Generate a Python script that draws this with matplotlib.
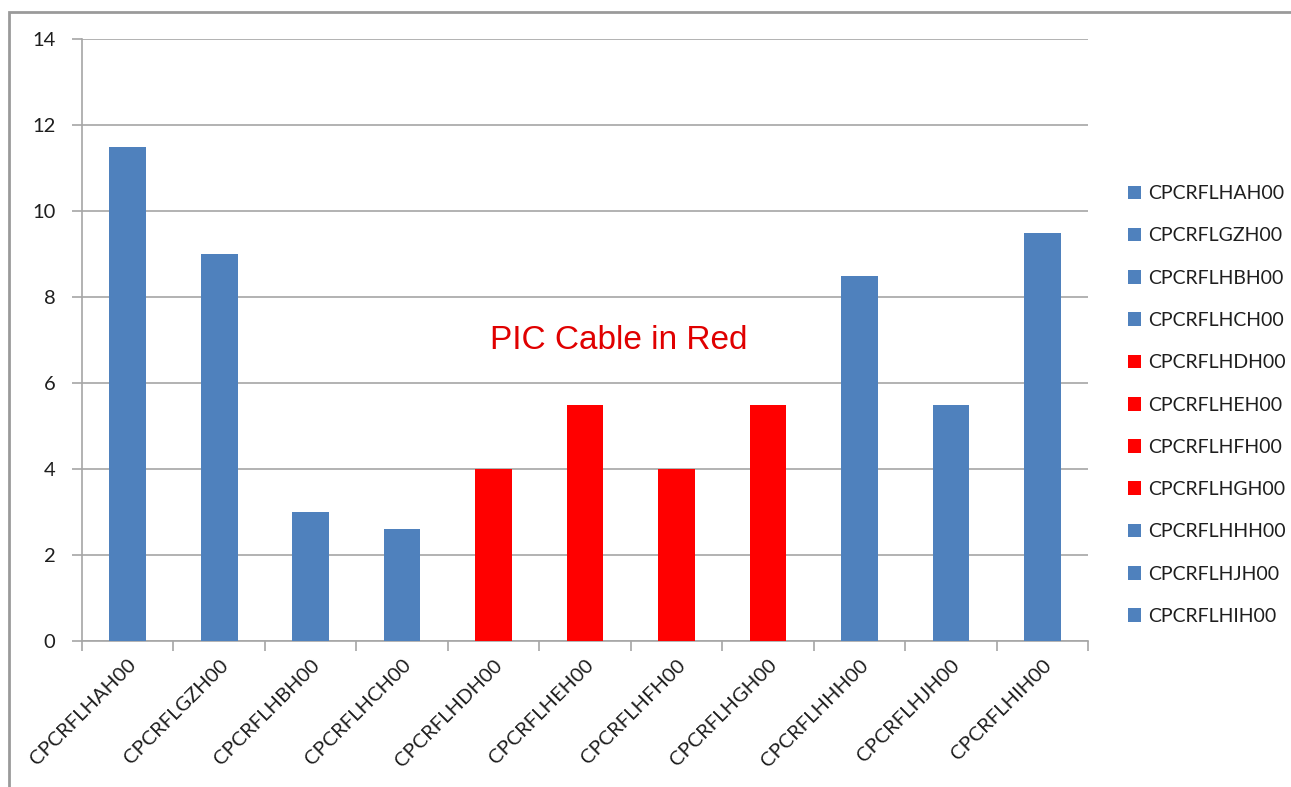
import matplotlib.pyplot as plt
import numpy as np
from matplotlib.patches import Patch, Rectangle

# cable ids and their values
cables = ["CPCRFLHAH00", "CPCRFLGZH00", "CPCRFLHBH00", "CPCRFLHCH00",
          "CPCRFLHDH00", "CPCRFLHEH00", "CPCRFLHFH00", "CPCRFLHGH00",
          "CPCRFLHHH00", "CPCRFLHJH00", "CPCRFLHIH00"]
values = [11.5, 9, 3, 2.6, 4, 5.5, 4, 5.5, 8.5, 5.5, 9.5]
is_pic = [False, False, False, False, True, True, True, True, False, False, False]

BLUE = "#4F81BD"
RED = "#FF0000"
GRID = "#A6A6A6"
TXT = "#1E1E1E"
colors = [RED if p else BLUE for p in is_pic]

plt.rcParams["font.family"] = ["Lato", "DejaVu Sans"]

fig = plt.figure(figsize=(12.91, 7.87), dpi=100)
ax = fig.add_axes([0.0635, 0.1855, 0.7795, 0.7649])

x = np.arange(len(cables))
ax.bar(x, values, width=0.4, color=colors, zorder=3)

ax.set_xlim(-0.5, len(cables) - 0.5)
ax.set_ylim(0, 14)
ax.set_yticks(np.arange(0, 15, 2))
ax.grid(axis="y", color=GRID, lw=1.2, zorder=0)

ax.set_xticks(x)
ax.set_xticklabels(cables, rotation=45, ha="right", rotation_mode="anchor",
                   fontsize=14.5, color=TXT)
ax.set_xticks(np.arange(-0.5, len(cables), 1), minor=True)
ax.tick_params(axis="x", which="major", length=0, pad=11)
ax.tick_params(axis="x", which="minor", length=7, color=GRID, width=1.2)
ax.tick_params(axis="y", length=7, color=GRID, width=1.2, labelsize=14.5,
               labelcolor=TXT, pad=12)

for s in ["top", "right"]:
    ax.spines[s].set_visible(False)
for s in ["left", "bottom"]:
    ax.spines[s].set_color(GRID)
    ax.spines[s].set_linewidth(1.2)

ax.text(5.37, 7.0, "PIC Cable in Red", color="#E00000", fontsize=24,
        family="Liberation Sans", ha="center", va="center")

handles = [Patch(facecolor=c, edgecolor="none", label=n) for n, c in zip(cables, colors)]
fig.legend(handles=handles, loc="upper left", bbox_to_anchor=(0.86, 0.787),
           frameon=False, fontsize=14, handlelength=0.7, handleheight=0.7,
           handletextpad=0.35, labelspacing=1.3, labelcolor=TXT)

# outer chart frame
fig.patches.append(Rectangle((0.007, -0.02), 1.1, 1 - 12 / 787 + 0.02,
                             transform=fig.transFigure, fill=False,
                             edgecolor="#9A9A9A", lw=2))

fig.savefig("out.png", dpi=100)
